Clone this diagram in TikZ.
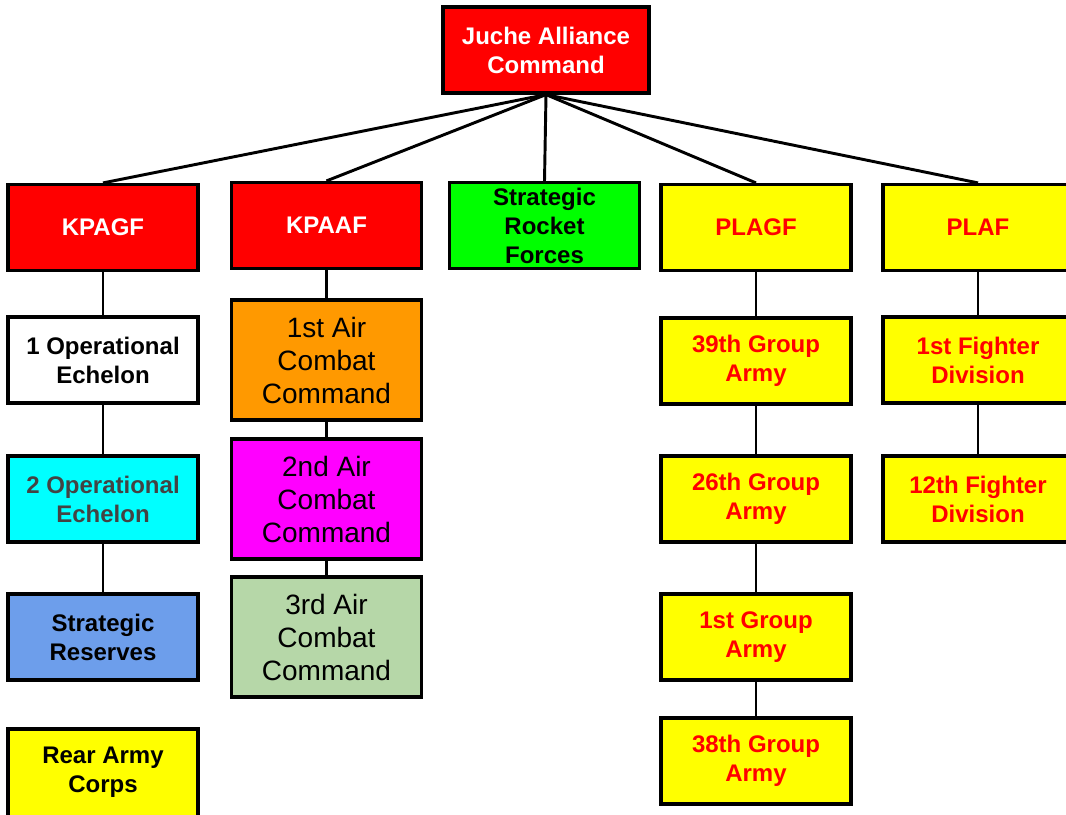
\documentclass[tikz,border=0pt]{standalone}
\usepackage{xcolor}
\usepackage{tikz}
\usepackage{fontspec}
\setmainfont{Liberation Sans}
\definecolor{unitred}{HTML}{FF0000}
\definecolor{unitgreen}{HTML}{00FF00}
\definecolor{unityellow}{HTML}{FFFF00}
\definecolor{unitcyan}{HTML}{00FFFF}
\definecolor{unitmagenta}{HTML}{FF00FF}
\definecolor{unitorange}{HTML}{FF9900}
\definecolor{unitblue}{HTML}{6D9EEB}
\definecolor{unitsage}{HTML}{B6D7A8}
\definecolor{unitgray}{HTML}{434343}

\begin{document}
\begin{tikzpicture}[x=0.75pt,y=-0.75pt]
						\tikzstyle{unit}=[draw=black,line width=2.4pt,inner sep=0pt,align=center,minimum width=142.5pt,minimum height=64.5pt,font=\fontsize{18}{21.75}\selectfont\bfseries]
						\tikzstyle{aircmd}=[unit,minimum height=90pt,font=\fontsize{21}{24.75}\selectfont]
						\tikzstyle{link}=[line width=2.2pt]
						\useasboundingbox (0,0) rectangle (1066,814);
						\clip (0,0) rectangle (1066,814);
						% top command
						\node[unit,fill=unitred,text=white,minimum width=154.5pt](jac) at (546,50) {Juche Alliance\\Command};
						% first row
						\node[unit,fill=unitred,text=white](kpagf) at (103,227.5) {KPAGF};
						\node[unit,fill=unitred,text=white](kpaaf) at (326.5,225.5) {KPAAF};
						\node[unit,fill=unitgreen](srf) at (544.5,225.5) {Strategic\\Rocket\\Forces};
						\node[unit,fill=unityellow,text=unitred](plagf) at (756,227.5) {PLAGF};
						\node[unit,fill=unityellow,text=unitred](plaf) at (978,227.5) {PLAF};
						% KPAGF column
						\node[unit,fill=white](op1) at (103,360) {1 Operational\\Echelon};
						\node[unit,fill=unitcyan,text=unitgray](op2) at (103,499) {2 Operational\\Echelon};
						\node[unit,fill=unitblue](res) at (103,637) {Strategic\\Reserves};
						\node[unit,fill=unityellow,minimum height=67.5pt,text depth=6pt](rear) at (103,774) {Rear Army\\Corps};
						% KPAAF column
						\node[aircmd,fill=unitorange](air1) at (326.5,360) {1st Air\\Combat\\Command};
						\node[aircmd,fill=unitmagenta](air2) at (326.5,499) {2nd Air\\Combat\\Command};
						\node[aircmd,fill=unitsage](air3) at (326.5,637) {3rd Air\\Combat\\Command};
						% PLAGF column
						\node[unit,fill=unityellow,text=unitred](ga39) at (756,361) {39th Group\\Army};
						\node[unit,fill=unityellow,text=unitred](ga26) at (756,499) {26th Group\\Army};
						\node[unit,fill=unityellow,text=unitred](ga1) at (756,637) {1st Group\\Army};
						\node[unit,fill=unityellow,text=unitred](ga38) at (756,761) {38th Group\\Army};
						% PLAF column
						\node[unit,fill=unityellow,text=unitred](fd1) at (978,360) {1st Fighter\\Division};
						\node[unit,fill=unityellow,text=unitred](fd12) at (978,499) {12th Fighter\\Division};
						% links
						\draw[link](jac.south) -- (kpagf.north);
						\draw[link](jac.south) -- (kpaaf.north);
						\draw[link](jac.south) -- (srf.north);
						\draw[link](jac.south) -- (plagf.north);
						\draw[link](jac.south) -- (plaf.north);
						\draw[link](kpagf) -- (op1);
						\draw[link](op1) -- (op2);
						\draw[link](op2) -- (res);
						\draw[link](kpaaf) -- (air1);
						\draw[link](air1) -- (air2);
						\draw[link](air2) -- (air3);
						\draw[link](plagf) -- (ga39);
						\draw[link](ga39) -- (ga26);
						\draw[link](ga26) -- (ga1);
						\draw[link](ga1) -- (ga38);
						\draw[link](plaf) -- (fd1);
						\draw[link](fd1) -- (fd12);
					\end{tikzpicture}
\end{document}
